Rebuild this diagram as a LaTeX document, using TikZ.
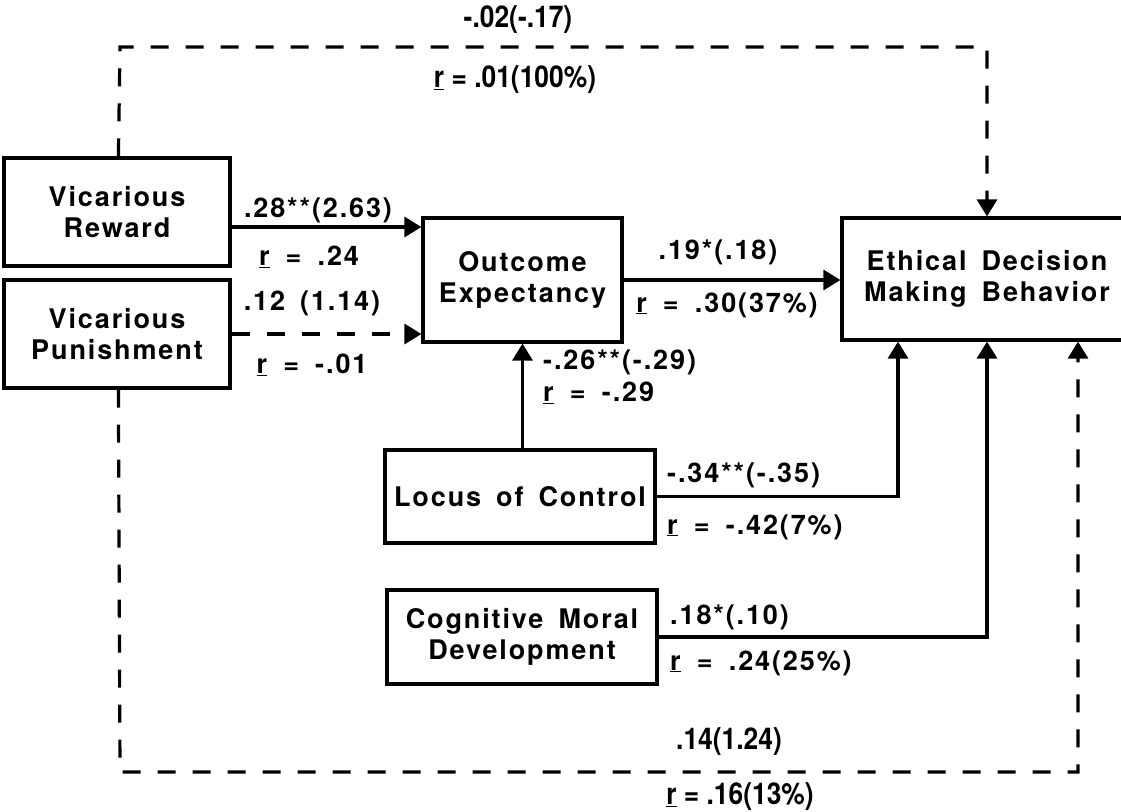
\documentclass[tikz,border=0pt]{standalone}
\usepackage{fontspec}
\setmainfont{TeX Gyre Heros}[LetterSpace=7,WordSpace=1.6]
\newfontfamily\pathfont{TeX Gyre Heros}[FakeStretch=0.88]
\usetikzlibrary{arrows.meta}

\tikzset{
  varbox/.style={draw, line width=3.2pt, align=center, inner sep=0pt, font=\fontsize{27}{31}\selectfont\bfseries},
  coef/.style={inner sep=0pt, font=\fontsize{27}{31}\selectfont\bfseries},
  pathcoef/.style={inner sep=0pt, font=\pathfont\fontsize{30}{32}\selectfont\bfseries},
  arr/.style={line width=3.2pt, -{Triangle[length=17pt,width=20pt]}},
  dsh/.style={dash pattern=on 18pt off 17pt}
}
\newcommand{\rcoef}[1]{\underline{r}\hspace{.6em}=\hspace{.6em}#1}

\begin{document}
\begin{tikzpicture}[x=1pt,y=-1pt]
    \useasboundingbox (0,0) rectangle (1121,811);

    % 1. Variable boxes
    \node[varbox, minimum width=226pt, minimum height=108pt] (vr) at (117,212) {Vicarious\\Reward};
    \node[varbox, minimum width=226pt, minimum height=108pt] (vp) at (117,334) {Vicarious\\Punishment};
    \node[varbox, minimum width=199pt, minimum height=124pt] (oe) at (522.5,280) {Outcome\\Expectancy};
    \node[varbox, minimum width=290pt, minimum height=122pt] (edmb) at (987,279) {Ethical Decision\\Making Behavior};
    \node[varbox, minimum width=270pt, minimum height=93pt] (loc) at (520,496.5) {Locus of Control};
    \node[varbox, minimum width=270pt, minimum height=94pt] (cmd) at (522,637) {Cognitive Moral\\Development};

    % 2. Paths into Outcome Expectancy
    \coordinate (vrout) at ([yshift=-15pt]vr.east);
    \draw[arr] (vrout) -- (vrout -| oe.west);
    \draw[arr, dsh] (vp.east) -- (vp.east -| oe.west);
    \draw[arr] (oe.south |- loc.north) -- (oe.south);

    % 3. Paths into Ethical Decision Making Behavior
    \draw[arr] (oe.east) -- (oe.east -| edmb.west);
    \draw[arr] (loc.east) -| ([xshift=-89pt]edmb.south);
    \draw[arr] (cmd.east) -| (edmb.south);

    % 4. Dashed direct paths (top and bottom)
    \coordinate (topL) at (120,47);
    \coordinate (botL) at (120,772);
    \draw[arr, dsh] ([xshift=116pt]vr.north west) -- (topL) -| (edmb.north);
    \draw[arr, dsh] ([xshift=116pt]vp.south west) -- (botL) -| ([xshift=91pt]edmb.south);

    % 5. Coefficients
    \node[coef] (vrb) at (318,210) {.28**(2.63)};
    \node[coef] (vrr) at (309,257) {\rcoef{.24}};
    \node[coef] (vpb) at (312,303) {.12 (1.14)};
    \node[coef] (vpr) at (312,365) {\rcoef{-.01}};
    \node[coef] (oeb) at (718,252) {.19*(.18)};
    \node[coef] (oer) at (727,305) {\rcoef{.30(37\%)}};
    \node[coef, anchor=west] (locb) at (543,362) {-.26**(-.29)};
    \node[coef, anchor=west] (locr) at (543,393) {\rcoef{-.29}};
    \node[coef, anchor=west] (loceb) at (667,475) {-.34**(-.35)};
    \node[coef, anchor=west] (locer) at (667,527) {\rcoef{-.42(7\%)}};
    \node[coef, anchor=west] (cmdb) at (670,617) {.18*(.10)};
    \node[coef, anchor=west] (cmdr) at (670,663) {\rcoef{.24(25\%)}};
    \node[pathcoef] (topb) at (518,20) {-.02(-.17)};
    \node[pathcoef] (topr) at (515,80) {\underline{r} = .01(100\%)};
    \node[pathcoef] (botb) at (729,742) {.14(1.24)};
    \node[pathcoef] (botr) at (740,797) {\underline{r} = .16(13\%)};
\end{tikzpicture}
\end{document}
